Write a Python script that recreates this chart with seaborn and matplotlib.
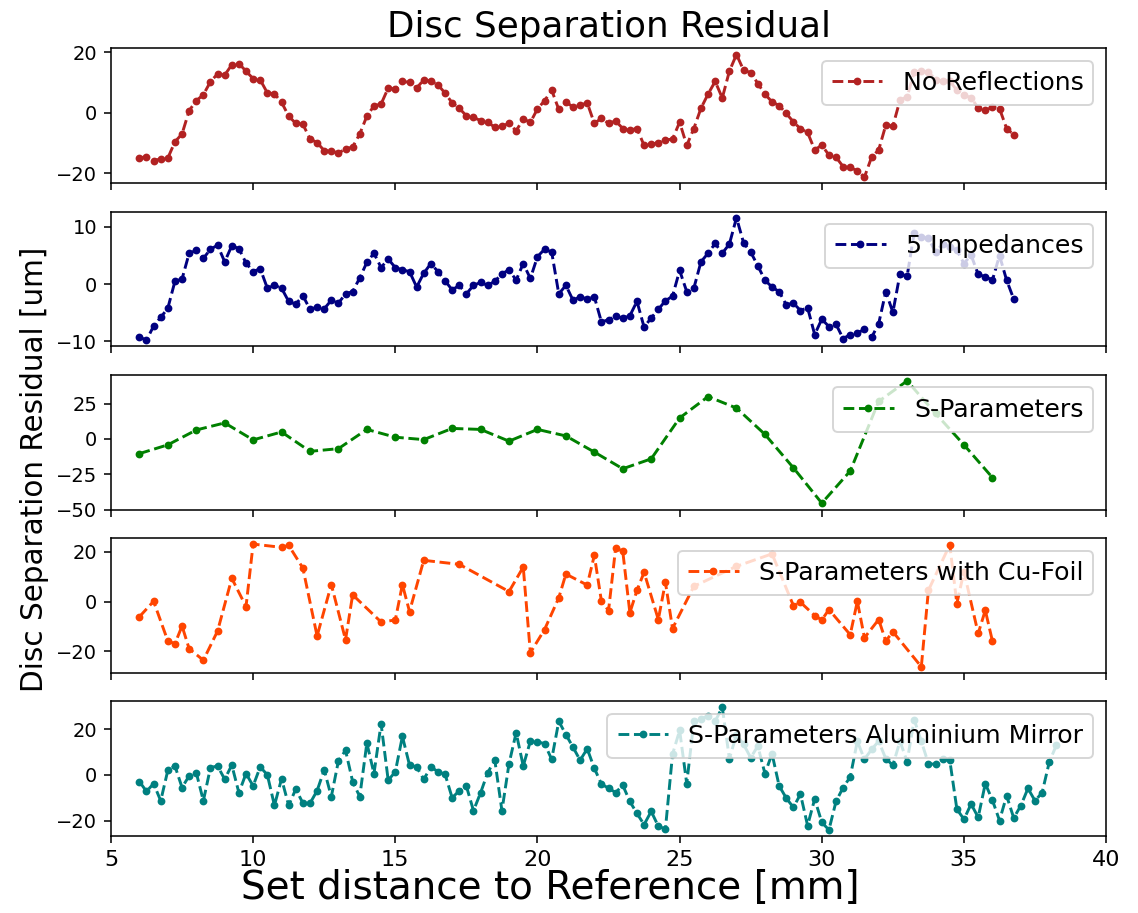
import pandas as pd
import seaborn as sns
import matplotlib.pyplot as plt

# distancias medidas (mm)
dist = [6.0, 6.25, 6.5, 6.75, 7.0, 7.25, 7.5, 7.75,
        8.0, 8.25, 8.5, 8.75, 9.0, 9.25, 9.5, 9.75,
        10.0, 10.25, 10.5, 10.75, 11.0, 11.25, 11.5, 11.75,
        12.0, 12.25, 12.5, 12.75, 13.0, 13.25, 13.5, 13.75,
        14.0, 14.25, 14.5, 14.75, 15.0, 15.25, 15.5, 15.75,
        16.0, 16.25, 16.5, 16.75, 17.0, 17.25, 17.5, 17.75,
        18.0, 18.25, 18.5, 18.75, 19.0, 19.25, 19.5, 19.75,
        20.0, 20.25, 20.5, 20.75, 21.0, 21.25, 21.5, 21.75,
        22.0, 22.25, 22.5, 22.75, 23.0, 23.25, 23.5, 23.75,
        24.0, 24.25, 24.5, 24.75, 25.0, 25.25, 25.5, 25.75,
        26.0, 26.25, 26.5, 26.75, 27.0, 27.25, 27.5, 27.75,
        28.0, 28.25, 28.5, 28.75, 29.0, 29.25, 29.5, 29.75,
        30.0, 30.25, 30.5, 30.75, 31.0, 31.25, 31.5, 31.75,
        32.0, 32.25, 32.5, 32.75, 33.0, 33.25, 33.5, 33.75,
        34.0, 34.25, 34.5, 34.75, 35.0, 35.25, 35.5, 35.75,
        36.0, 36.25, 36.5, 36.75]
dist_al = dist + [37.0, 37.25, 37.5, 37.75, 38.0, 38.25]

no_refl = [-15.0, -14.5, -15.8, -15.3, -15.0, -9.6, -7.0, 0.7, 4.0, 6.0,
           10.3, 12.9, 12.5, 15.9, 16.3, 13.8, 11.3, 10.9, 6.6, 6.3,
           3.5, -1.1, -3.5, -3.8, -8.6, -9.9, -12.5, -12.7, -13.3, -12.0,
           -11.3, -7.0, -1.1, 2.3, 2.9, 8.2, 7.8, 10.4, 10.1, 8.2,
           10.9, 10.5, 9.3, 6.5, 3.3, 1.5, -1.0, -1.5, -2.6, -3.1,
           -4.8, -4.4, -3.5, -6.0, -2.0, -3.2, 1.3, 4.0, 7.5, 1.1,
           3.5, 2.0, 2.5, 3.3, -3.5, -1.8, -3.5, -2.7,
           -5.2, -5.7, -5.2, -10.8, -10.4, -9.9, -9.0, -8.7, -3.1, -10.8,
           -5.2, 1.5, 6.2, 10.4, 4.9, 13.8, 19.3, 14.1, 13.3, 9.7,
           6.2, 3.6, 2.4, -0.2, -3.0, -5.3, -6.5, -12.3, -10.7, -14.0,
           -14.7, -17.8, -18.1, -19.2, -21.3, -14.7, -12.3, -4.1, -4.4, 4.2,
           5.3, 13.5, 13.7, 13.5, 11.0, 10.5, 10.5, 7.5, 5.8, 5.0,
           1.6, 0.9, 1.8, 1.4, -5.2, -7.3]

imped = [-9.2, -9.8, -7.3, -5.8, -4.2, 0.5, 0.9, 5.4, 5.9, 4.5,
         6.1, 6.8, 3.9, 6.7, 6.2, 3.7, 2.2, 2.7, -0.7, -0.2,
         -0.7, -3.0, -3.5, -2.0, -4.4, -4.0, -4.3, -2.8, -3.3, -1.7,
         -1.3, 1.1, 3.8, 5.4, 2.9, 4.4, 2.9, 2.5, 2.2, -0.5,
         1.9, 3.6, 2.2, 0.6, -1.0, -0.2, -1.7, -0.2, 0.3, -0.2,
         0.5, 1.8, 2.5, 0.7, 3.6, 1.0, 4.8, 6.1, 5.6, -1.7,
         -0.2, -2.8, -2.2, -2.6, -2.2, -6.6, -6.2, -5.6,
         -5.9, -5.5, -3.0, -7.5, -5.9, -4.4, -2.9, -2.1, 2.4, -1.3,
         -0.7, 3.9, 5.4, 7.1, 5.4, 7.0, 11.6, 7.2, 5.6, 3.2,
         0.7, -0.5, -1.3, -3.6, -3.3, -4.6, -4.1, -8.8, -6.1, -7.4,
         -7.0, -9.5, -8.8, -8.5, -7.9, -9.3, -6.9, -1.3, -4.9, 1.8,
         1.4, 9.0, 8.2, 8.0, 5.6, 7.0, 6.5, 5.9, 3.6, 5.1,
         1.7, 1.3, 0.7, 5.0, 0.7, -2.6]

dist_sp = [6, 7, 8, 9, 10, 11, 12, 13, 14, 15, 16, 17, 18, 19, 20, 21,
           22, 23, 24, 25, 26, 27, 28, 29, 30, 31, 32, 33, 34, 35, 36]
s_param = [-10.4, -4.2, 6.3, 11.3, -0.7, 4.9, -8.8, -6.9, 6.7, 1.2,
           -0.5, 7.4, 6.7, -1.6, 6.7, 2.1, -9.3, -21.1, -14.1, 14.8,
           29.9, 21.8, 3.2, -20.4, -45.4, -22.7, 26.5, 41.0, 18.0, -4.2,
           -27.3]

dist_cu = [6.0, 6.5, 7.0, 7.25, 7.5, 7.75, 8.25, 8.75, 9.25, 9.75,
           10.0, 11.0, 11.25, 11.75, 12.25, 12.75, 13.25, 13.5, 14.5, 15.0,
           15.25, 15.5, 16.0, 17.25, 19.0, 19.5, 19.75, 20.25, 20.75, 21.0,
           21.75, 22.0, 22.25, 22.5, 22.75, 23.0, 23.25, 23.5, 23.75, 24.25,
           24.5, 24.75, 25.5, 27.0, 28.25, 29.0, 29.25, 29.75, 30.0, 30.25,
           31.0, 31.25, 31.5, 32.0, 32.25, 32.5, 33.5, 33.75, 34.5, 34.75,
           35.0, 35.5, 35.75, 36.0]
s_param_cu = [-6.1, 0.1, -15.8, -16.9, -9.8, -18.9, -23.5, -11.8, 9.3, -2.0,
              23.0, 21.7, 22.5, 13.4, -13.8, 6.8, -15.3, 2.7, -8.2, -7.4,
              6.8, -4.0, 16.5, 14.9, 4.0, 13.8, -20.5, -11.2, 1.5, 11.0,
              6.6, 18.5, 0.1, -3.6, 21.5, 20.1, -4.5, 4.5, 11.7, -7.2,
              7.7, -10.8, 6.1, 14.1, 19.1, -1.6, -0.3, -5.6, -7.4, -3.2,
              -13.3, 0.1, -14.5, -7.2, -15.8, -12.1, -26.1, 4.5, 22.7, -0.8,
              12.0, -12.8, -3.5, -15.8]

s_param_al = [-2.9, -7.2, -3.8, -11.3, 2.0, 3.9, -5.5, -0.4, 1.0, -11.3,
              3.2, 3.9, -1.9, 4.3, -7.8, 0.6, -4.8, 3.5, 0.0, -13.3,
              -1.7, -13.3, -6.2, -12.3, -12.4, -6.9, 2.2, -9.5, 6.1, 10.7,
              -2.9, -9.5, 13.9, 0.6, 22.3, -2.3, 1.3, 16.8, 4.3, 3.5,
              -2.0, 3.5, 1.4, 0.3, -10.0, -6.9, -4.9, -15.6, -7.8, 1.0,
              6.4, -15.6, 4.9, 18.4, 3.9, 14.7, 14.5, 13.6, 6.8, 23.4,
              17.6, 12.1, 6.4, 11.4, 2.9, -4.0, -5.8, -7.7,
              -4.5, -11.6, -16.8, -21.7, -15.9, -22.4, -23.6, 9.0, 19.4, -3.8,
              23.4, 24.6, 25.6, 23.4, 29.5, 7.1, 17.6, 13.3, 7.5, 12.6,
              0.6, 9.2, -4.8, -10.1, -14.2, -8.4, -22.1, -10.5, -20.7, -24.0,
              -11.6, -5.5, -0.9, 14.7, 6.8, 11.1, 14.7, 7.1, 4.2, 14.7,
              5.8, 24.1, 14.7, 4.9, 4.6, 6.8, 6.5, -14.9, -19.4, -12.7,
              -18.5, -3.8, -11.0, -19.9, -9.1, -18.8, -13.4, -5.9, -11.3, -7.7,
              5.6, 13.0]

labels = ["No Reflections", "5 Impedances", "S-Parameters",
          "S-Parameters with Cu-Foil", "S-Parameters Aluminium Mirror"]
cores = ["firebrick", "navy", "green", "orangered", "teal"]
yticks = [[-20, 0, 20], [-10, 0, 10], [-50, -25, 0, 25], [-20, 0, 20], [-20, 0, 20]]
xticks = [5, 10, 15, 20, 25, 30, 35, 40]

series = [(dist, no_refl), (dist, imped), (dist_sp, s_param),
          (dist_cu, s_param_cu), (dist_al, s_param_al)]

fig, axes = plt.subplots(5, 1, sharex=True, figsize=(1138 / 140, 913 / 140), dpi=140)
fig.subplots_adjust(left=0.0975, right=0.972, top=0.947, bottom=0.0843, hspace=0.21)

for ax, (xs, ys), lab, cor, yt in zip(axes, series, labels, cores, yticks):
    df = pd.DataFrame({"x": xs, "y": ys})
    sns.lineplot(data=df, x="x", y="y", ax=ax, color=cor, linestyle="--",
                 marker=".", markersize=6, markeredgecolor=cor, markeredgewidth=1,
                 linewidth=1.5, label=lab, estimator=None)
    ax.set_yticks(yt)
    ax.set_xlabel("")
    ax.set_ylabel("")
    ax.tick_params(axis="y", labelsize=10)
    ax.legend(loc="upper right", fontsize=13)

axes[-1].set_xlim(5, 40)
axes[-1].set_xticks(xticks)
axes[-1].tick_params(axis="x", labelsize=11.5)

axes[0].set_title("Disc Separation Residual", fontsize=18.4)
fig.text(550 / 1138, 1 - 888 / 913, "Set distance to Reference [mm]",
         ha="center", va="center", fontsize=20)
fig.text(35 / 1138, 1 - 469 / 913, "Disc Separation Residual [um]",
         ha="center", va="center", rotation=90, fontsize=15.2)

fig.savefig("out.png", dpi=140)
